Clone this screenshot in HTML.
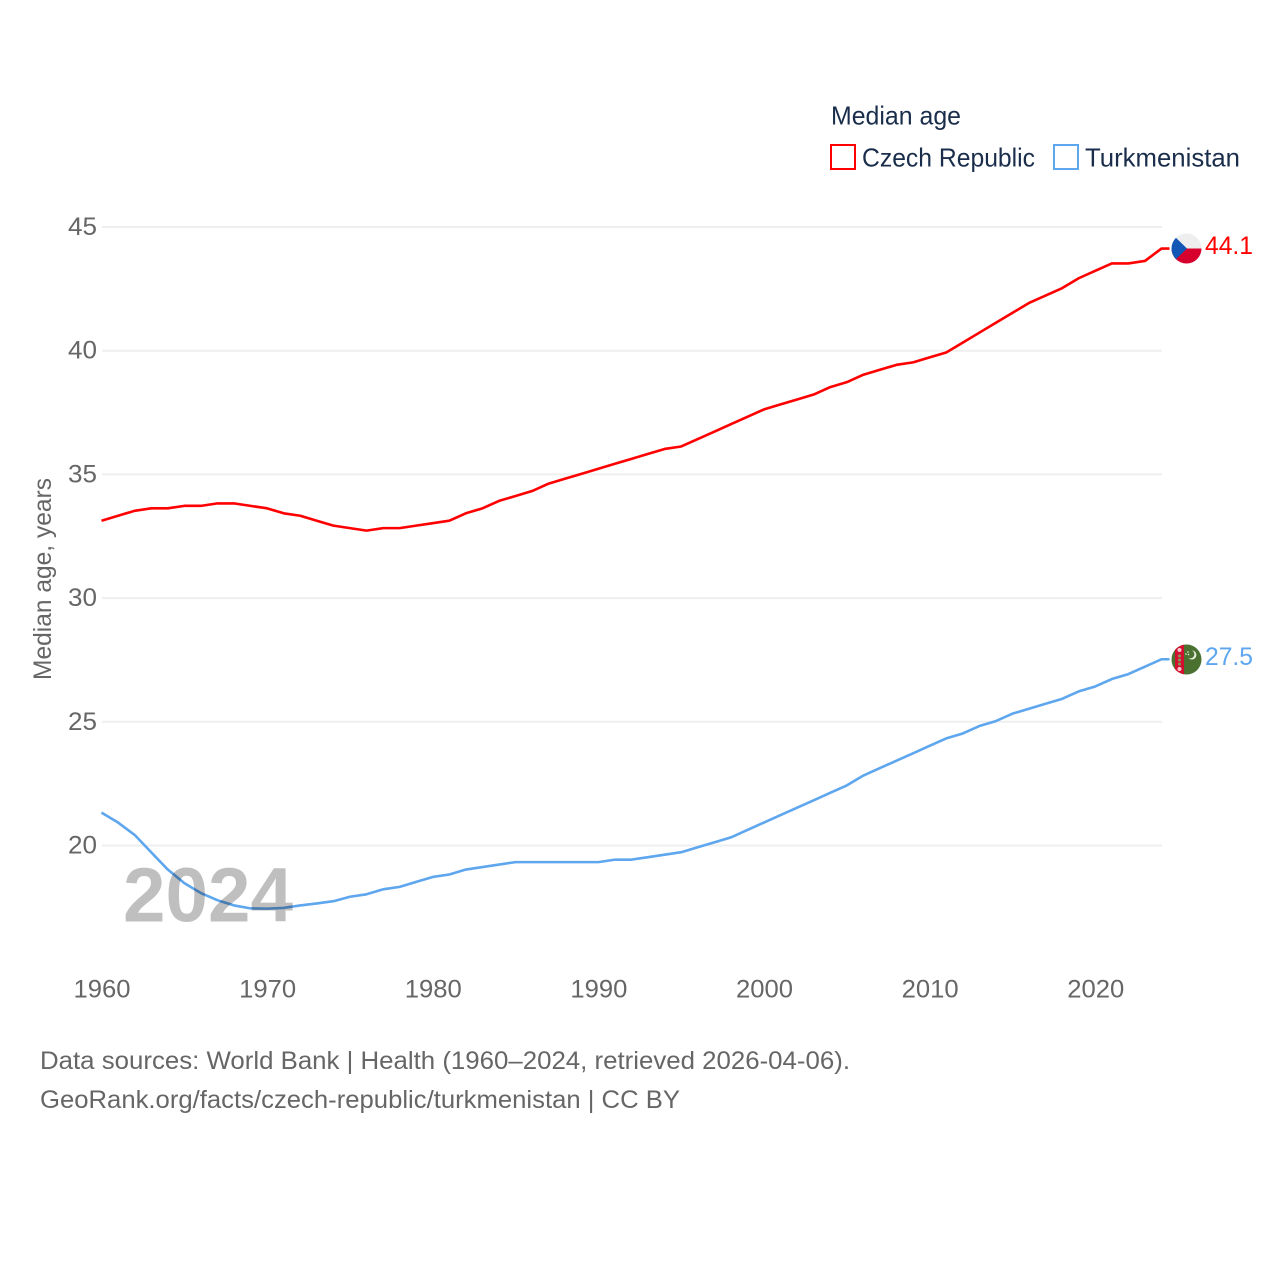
<!DOCTYPE html>
<html lang="en">
<head>
<meta charset="utf-8">
<title>Median age: Czech Republic and Turkmenistan</title>
<style>
html,body{margin:0;padding:0;background:#fff;}
svg{display:block;font-family:"Liberation Sans",sans-serif;}
</style>
</head>
<body>
<svg id="chart" width="1280" height="1280" viewBox="0 0 1280 1280" xmlns="http://www.w3.org/2000/svg">
  <defs>
    <clipPath id="clip-cz"><circle cx="1186.5" cy="248.5" r="15"/></clipPath>
    <clipPath id="clip-tm"><circle cx="1186.5" cy="659.5" r="15"/></clipPath>
  </defs>
  <rect width="1280" height="1280" fill="#fff"/>
  <g id="grid"></g>
  <g id="yticks"></g>
  <g id="xticks"></g>
  <text transform="translate(51,680) rotate(-90)" font-size="25" fill="#666" textLength="202" lengthAdjust="spacingAndGlyphs">Median age, years</text>

  <g>
    <text x="831" y="124.5" font-size="26" fill="#1a2e4c" textLength="130" lengthAdjust="spacingAndGlyphs">Median age</text>
    <rect x="831" y="145" width="24" height="24" fill="none" stroke="#ff0000" stroke-width="2"/>
    <text x="862" y="166.5" font-size="26" fill="#1a2e4c" textLength="173" lengthAdjust="spacingAndGlyphs">Czech Republic</text>
    <rect x="1054" y="145" width="24" height="24" fill="none" stroke="#5ea6ee" stroke-width="2"/>
    <text x="1085" y="166.5" font-size="26" fill="#1a2e4c" textLength="155" lengthAdjust="spacingAndGlyphs">Turkmenistan</text>
  </g>

  <g id="series" transform="translate(-0.5,-0.7)"></g>

  <text x="123" y="921.5" font-size="77" font-weight="700" fill="#000" fill-opacity="0.25" textLength="170" lengthAdjust="spacingAndGlyphs">2024</text>

  <g clip-path="url(#clip-cz)">
    <rect x="1171" y="233" width="31" height="16" fill="#eeeeee"/>
    <rect x="1171" y="248.5" width="31" height="16" fill="#d7002c"/>
    <polygon points="1171,233 1171,264 1187,248.5" fill="#1257b5"/>
  </g>
  <g clip-path="url(#clip-tm)">
    <rect x="1171" y="644" width="31" height="31" fill="#4b7130"/>
    <rect x="1175" y="644" width="9" height="31" fill="#d3102f"/>
    <circle cx="1179.5" cy="650" r="2" fill="#f6c9cf"/>
    <circle cx="1179.5" cy="656" r="1.5" fill="#7f9a5a"/>
    <circle cx="1179.5" cy="660" r="1.5" fill="#7f9a5a"/>
    <circle cx="1179.5" cy="664" r="1.5" fill="#7f9a5a"/>
    <circle cx="1179.5" cy="669" r="2" fill="#f6c9cf"/>
    <path d="M1192 650.5a4.5 4.5 0 1 1-3.5 7.5a3.6 3.6 0 1 0 3.5-7.5z" fill="#e8efe0"/>
    <circle cx="1188" cy="652" r=".8" fill="#e8efe0"/>
    <circle cx="1186" cy="654" r=".8" fill="#e8efe0"/>
    <circle cx="1188.5" cy="654.5" r=".8" fill="#e8efe0"/>
  </g>

  <text id="label-cz" x="1205" y="254" font-size="25" fill="#ff0000" textLength="48" lengthAdjust="spacingAndGlyphs"></text>
  <text id="label-tm" x="1205" y="665" font-size="25" fill="#5ea6ee" textLength="48" lengthAdjust="spacingAndGlyphs"></text>

  <g>
    <text x="40" y="1069" font-size="25" fill="#666" textLength="810" lengthAdjust="spacingAndGlyphs">Data sources: World Bank | Health (1960–2024, retrieved 2026-04-06).</text>
    <text x="40" y="1108" font-size="25" fill="#666" textLength="640" lengthAdjust="spacingAndGlyphs">GeoRank.org/facts/czech-republic/turkmenistan | CC BY</text>
  </g>
</svg>
<script>
const startYear = 1960;
const czechRepublic = [33.1,33.3,33.5,33.6,33.6,33.7,33.7,33.8,33.8,33.7,33.6,33.4,33.3,33.1,32.9,32.8,32.7,32.8,32.8,32.9,33.0,33.1,33.4,33.6,33.9,34.1,34.3,34.6,34.8,35.0,35.2,35.4,35.6,35.8,36.0,36.1,36.4,36.7,37.0,37.3,37.6,37.8,38.0,38.2,38.5,38.7,39.0,39.2,39.4,39.5,39.7,39.9,40.3,40.7,41.1,41.5,41.9,42.2,42.5,42.9,43.2,43.5,43.5,43.6,44.1];
const turkmenistan = [21.3,20.9,20.4,19.7,19.0,18.45,18.05,17.76,17.55,17.43,17.42,17.45,17.55,17.63,17.72,17.9,18.0,18.2,18.3,18.5,18.7,18.8,19.0,19.1,19.2,19.3,19.3,19.3,19.3,19.3,19.3,19.4,19.4,19.5,19.6,19.7,19.9,20.1,20.3,20.6,20.9,21.2,21.5,21.8,22.1,22.4,22.8,23.1,23.4,23.7,24.0,24.3,24.5,24.8,25.0,25.3,25.5,25.7,25.9,26.2,26.4,26.7,26.9,27.2,27.5];
const yTickValues = [20,25,30,35,40,45];
const xTickValues = [1960,1970,1980,1990,2000,2010,2020];

const SVG_NS = 'http://www.w3.org/2000/svg';
const xScale = function (year) { return 102 + (year - 1960) * (1060 / 64); };
const yScale = function (value) { return 227 + (45 - value) * 24.74; };

function make(tag, attrs, parent) {
  const el = document.createElementNS(SVG_NS, tag);
  Object.keys(attrs).forEach(function (k) { el.setAttribute(k, attrs[k]); });
  parent.appendChild(el);
  return el;
}

const grid = document.getElementById('grid');
const yticks = document.getElementById('yticks');
yTickValues.forEach(function (v) {
  const line = make('line', {x1: 102, x2: 1162, y1: yScale(v), y2: yScale(v), stroke: '#efefef', 'stroke-width': 2}, grid);
  
  
  const t = make('text', {x: 97, y: yScale(v) + 8, 'text-anchor': 'end', 'font-size': 25, fill: '#666', textLength: 29, lengthAdjust: 'spacingAndGlyphs'}, yticks);
  
  
  t.textContent = String(v);
});

const xticks = document.getElementById('xticks');
xTickValues.forEach(function (y) {
  const t = make('text', {x: xScale(y), y: 997.5, 'text-anchor': 'middle', 'font-size': 25, fill: '#666', textLength: 57, lengthAdjust: 'spacingAndGlyphs'}, xticks);
  
  
  t.textContent = String(y);
});

const seriesGroup = document.getElementById('series');
function drawSeries(values, color, name) {
  const pts = values.map(function (v, i) { return xScale(startYear + i).toFixed(2) + ',' + yScale(v).toFixed(2); });
  const lastX = xScale(startYear + values.length - 1);
  const lastY = yScale(values[values.length - 1]);
  pts.push((lastX + 8).toFixed(2) + ',' + lastY.toFixed(2));
  const line = make('polyline', {points: pts.join(' '), fill: 'none', stroke: color, 'stroke-width': 2.6, 'stroke-linejoin': 'round'}, seriesGroup);
  
  
}
drawSeries(czechRepublic, '#ff0000', 'line-czech-republic');
drawSeries(turkmenistan, '#5ea6ee', 'line-turkmenistan');

document.getElementById('label-cz').textContent = czechRepublic[czechRepublic.length - 1].toFixed(1);
document.getElementById('label-tm').textContent = turkmenistan[turkmenistan.length - 1].toFixed(1);
</script>
</body>
</html>
